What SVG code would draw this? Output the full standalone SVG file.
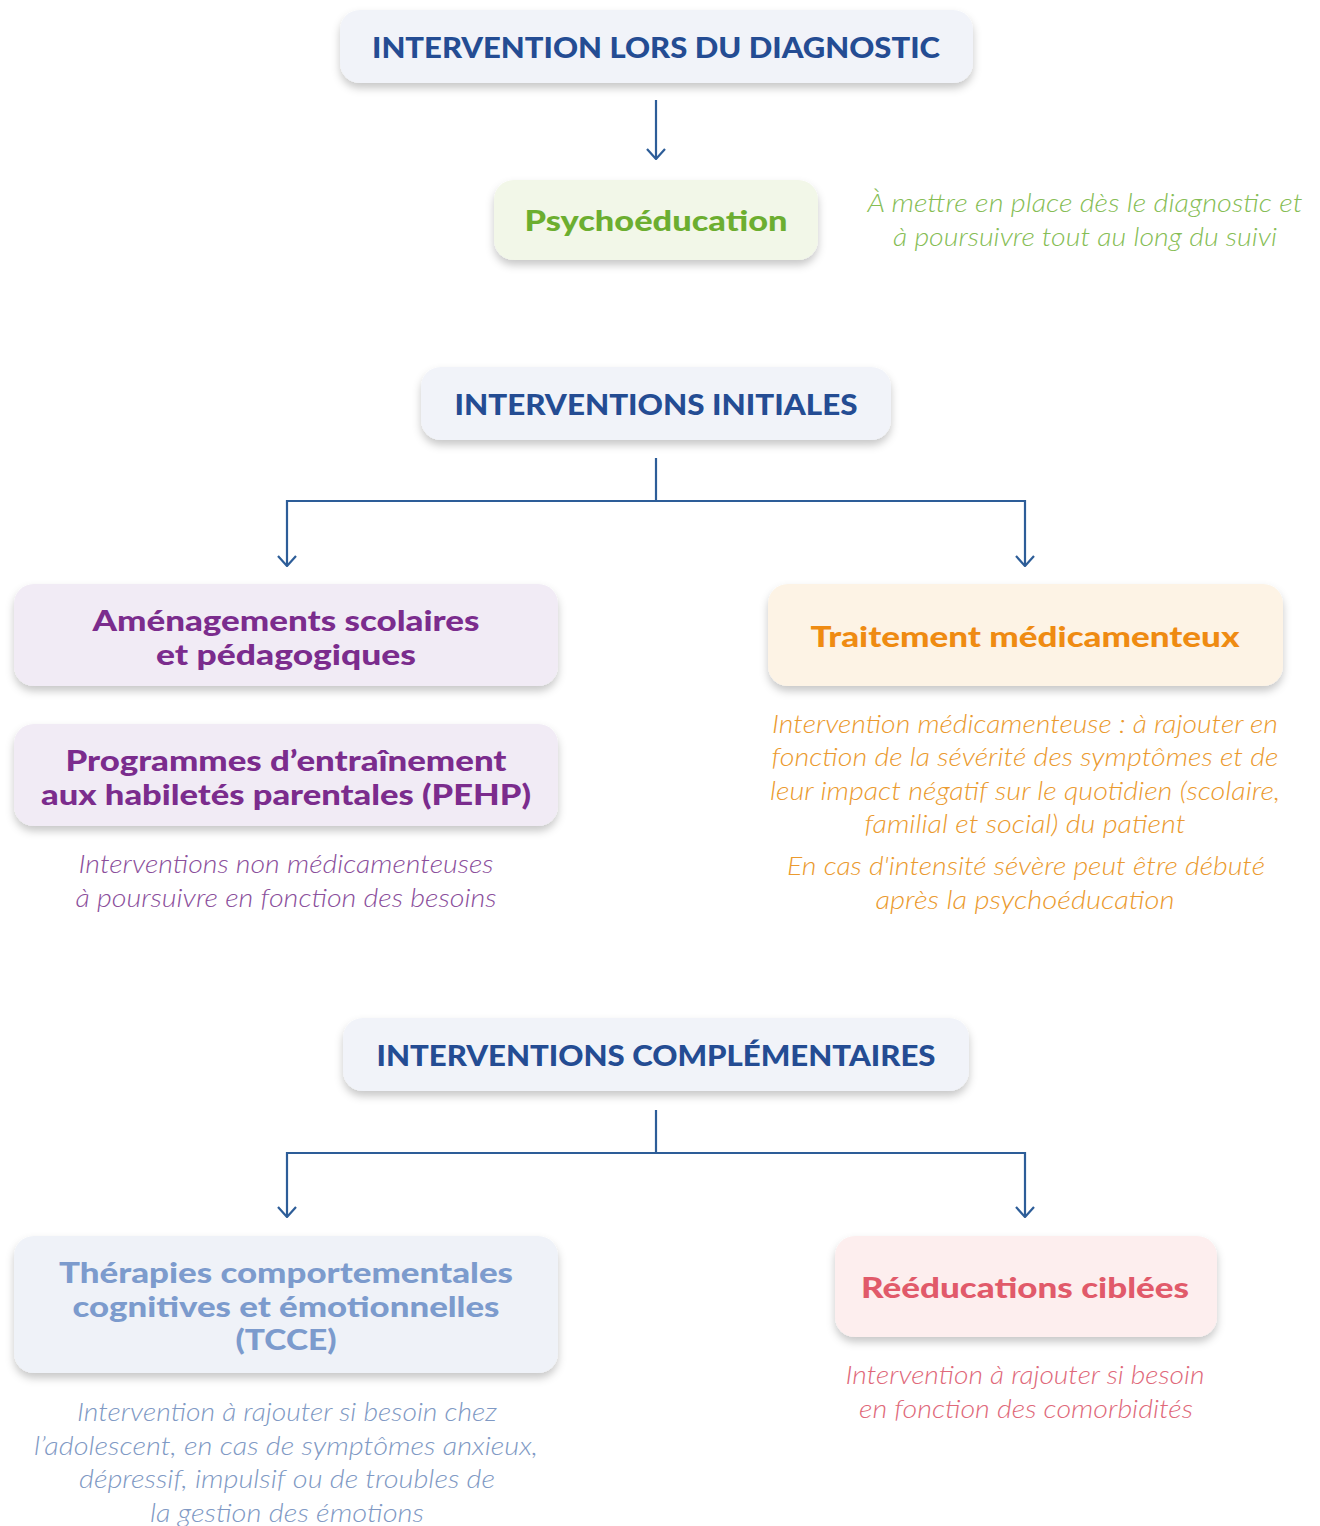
<svg xmlns="http://www.w3.org/2000/svg" width="1320" height="1526" viewBox="0 0 1320 1526">
<style>
.h{font-family:Lato,"Open Sans","Liberation Sans",sans-serif;font-weight:900;font-size:29px;text-anchor:middle}
.hd{fill:#244c93}
.note{font-family:Lato,"Open Sans","Liberation Sans",sans-serif;font-style:italic;font-weight:300;font-size:25px;text-anchor:middle}
.conn{fill:none;stroke:#2d5d98;stroke-width:2.2}
.box{filter:url(#sh)}
.g{fill:#86bd55}.p{fill:#7b2c8d}.pn{fill:#8b4f9c}.o{fill:#ef8b12}.on{fill:#eb9a2e}.b{fill:#7c9bcd}.bn{fill:#8099c4}.r{fill:#e15a6a}.rn{fill:#e0697a}
</style>
<defs>
<filter id="sh" x="-10%" y="-20%" width="120%" height="150%">
<feDropShadow dx="0" dy="5" stdDeviation="4" flood-color="#000" flood-opacity="0.22"/>
</filter>
<marker id="arr" viewBox="0 0 12 20" refX="11" refY="10" markerWidth="12" markerHeight="20" markerUnits="userSpaceOnUse" orient="auto">
<path d="M1,1 L11,10 L1,19" fill="none" stroke="#2d5d98" stroke-width="2.2"/>
</marker>
</defs>
<rect width="1320" height="1526" fill="#ffffff"/>

<g id="connectors">
<line class="conn" x1="656" y1="100" x2="656" y2="159" marker-end="url(#arr)"/>
<path class="conn" d="M656,458 V501"/>
<path class="conn" d="M656,501 H287 V566" marker-end="url(#arr)"/>
<path class="conn" d="M656,501 H1025 V566" marker-end="url(#arr)"/>
<path class="conn" d="M656,1110 V1153"/>
<path class="conn" d="M656,1153 H287 V1217" marker-end="url(#arr)"/>
<path class="conn" d="M656,1153 H1025 V1217" marker-end="url(#arr)"/>
</g>

<g id="diagnostic">
<rect class="box" x="340" y="10" width="633" height="73" rx="20" fill="#f1f3f9"/>
<text class="h hd" x="656" y="58" textLength="568" lengthAdjust="spacingAndGlyphs">INTERVENTION LORS DU DIAGNOSTIC</text>
</g>

<g id="psychoeducation">
<rect class="box" x="494" y="180" width="324" height="80" rx="20" fill="#f2f7e8"/>
<text class="h" x="656" y="231" fill="#6cae30" textLength="263" lengthAdjust="spacingAndGlyphs">Psychoéducation</text>
</g>
<g id="psychoeducation-note">
<text class="note g" x="1085" y="212" textLength="435" lengthAdjust="spacingAndGlyphs">À mettre en place dès le diagnostic et</text>
<text class="note g" x="1085" y="246" textLength="384" lengthAdjust="spacingAndGlyphs">à poursuivre tout au long du suivi</text>
</g>

<g id="initiales">
<rect class="box" x="421" y="367" width="470" height="73" rx="20" fill="#f1f3f9"/>
<text class="h hd" x="656" y="415" textLength="403" lengthAdjust="spacingAndGlyphs">INTERVENTIONS INITIALES</text>
</g>

<g id="amenagements">
<rect class="box" x="14" y="584" width="544" height="102" rx="20" fill="#f1ebf5"/>
<text class="h p" x="286" y="631" textLength="387" lengthAdjust="spacingAndGlyphs">Aménagements scolaires</text>
<text class="h p" x="286" y="665" textLength="260" lengthAdjust="spacingAndGlyphs">et pédagogiques</text>
</g>

<g id="pehp">
<rect class="box" x="14" y="724" width="544" height="102" rx="20" fill="#f1ebf5"/>
<text class="h p" x="286" y="771" textLength="441" lengthAdjust="spacingAndGlyphs">Programmes d’entraînement</text>
<text class="h p" x="286" y="805" textLength="490" lengthAdjust="spacingAndGlyphs">aux habiletés parentales (PEHP)</text>
</g>
<g id="pehp-note">
<text class="note pn" x="286" y="873" textLength="415" lengthAdjust="spacingAndGlyphs">Interventions non médicamenteuses</text>
<text class="note pn" x="286" y="907" textLength="421" lengthAdjust="spacingAndGlyphs">à poursuivre en fonction des besoins</text>
</g>

<g id="traitement">
<rect class="box" x="768" y="584" width="515" height="102" rx="20" fill="#fdf3e5"/>
<text class="h o" x="1025" y="647" textLength="429" lengthAdjust="spacingAndGlyphs">Traitement médicamenteux</text>
</g>
<g id="traitement-note">
<text class="note on" x="1025" y="733" textLength="506" lengthAdjust="spacingAndGlyphs">Intervention médicamenteuse : à rajouter en</text>
<text class="note on" x="1025" y="766" textLength="507" lengthAdjust="spacingAndGlyphs">fonction de la sévérité des symptômes et de</text>
<text class="note on" x="1025" y="800" textLength="510" lengthAdjust="spacingAndGlyphs">leur impact négatif sur le quotidien (scolaire,</text>
<text class="note on" x="1025" y="833" textLength="321" lengthAdjust="spacingAndGlyphs">familial et social) du patient</text>
<text class="note on" x="1026" y="875" textLength="478" lengthAdjust="spacingAndGlyphs">En cas d'intensité sévère peut être débuté</text>
<text class="note on" x="1025" y="909" textLength="299" lengthAdjust="spacingAndGlyphs">après la psychoéducation</text>
</g>

<g id="complementaires">
<rect class="box" x="343" y="1018" width="626" height="73" rx="20" fill="#f1f3f9"/>
<text class="h hd" x="656" y="1066" textLength="559" lengthAdjust="spacingAndGlyphs">INTERVENTIONS COMPLÉMENTAIRES</text>
</g>

<g id="tcce">
<rect class="box" x="14" y="1236" width="544" height="137" rx="20" fill="#eff2f8"/>
<text class="h b" x="286" y="1283" textLength="454" lengthAdjust="spacingAndGlyphs">Thérapies comportementales</text>
<text class="h b" x="286" y="1317" textLength="427" lengthAdjust="spacingAndGlyphs">cognitives et émotionnelles</text>
<text class="h b" x="286" y="1350" textLength="101" lengthAdjust="spacingAndGlyphs">(TCCE)</text>
</g>
<g id="tcce-note">
<text class="note bn" x="287" y="1421" textLength="420" lengthAdjust="spacingAndGlyphs">Intervention à rajouter si besoin chez</text>
<text class="note bn" x="286" y="1455" textLength="504" lengthAdjust="spacingAndGlyphs">l’adolescent, en cas de symptômes anxieux,</text>
<text class="note bn" x="287" y="1488" textLength="416" lengthAdjust="spacingAndGlyphs">dépressif, impulsif ou de troubles de</text>
<text class="note bn" x="287" y="1522" textLength="274" lengthAdjust="spacingAndGlyphs">la gestion des émotions</text>
</g>

<g id="reeducations">
<rect class="box" x="835" y="1236" width="382" height="101" rx="20" fill="#fdeeee"/>
<text class="h r" x="1025" y="1298" textLength="328" lengthAdjust="spacingAndGlyphs">Rééducations ciblées</text>
</g>
<g id="reeducations-note">
<text class="note rn" x="1025" y="1384" textLength="359" lengthAdjust="spacingAndGlyphs">Intervention à rajouter si besoin</text>
<text class="note rn" x="1026" y="1418" textLength="334" lengthAdjust="spacingAndGlyphs">en fonction des comorbidités</text>
</g>
</svg>
